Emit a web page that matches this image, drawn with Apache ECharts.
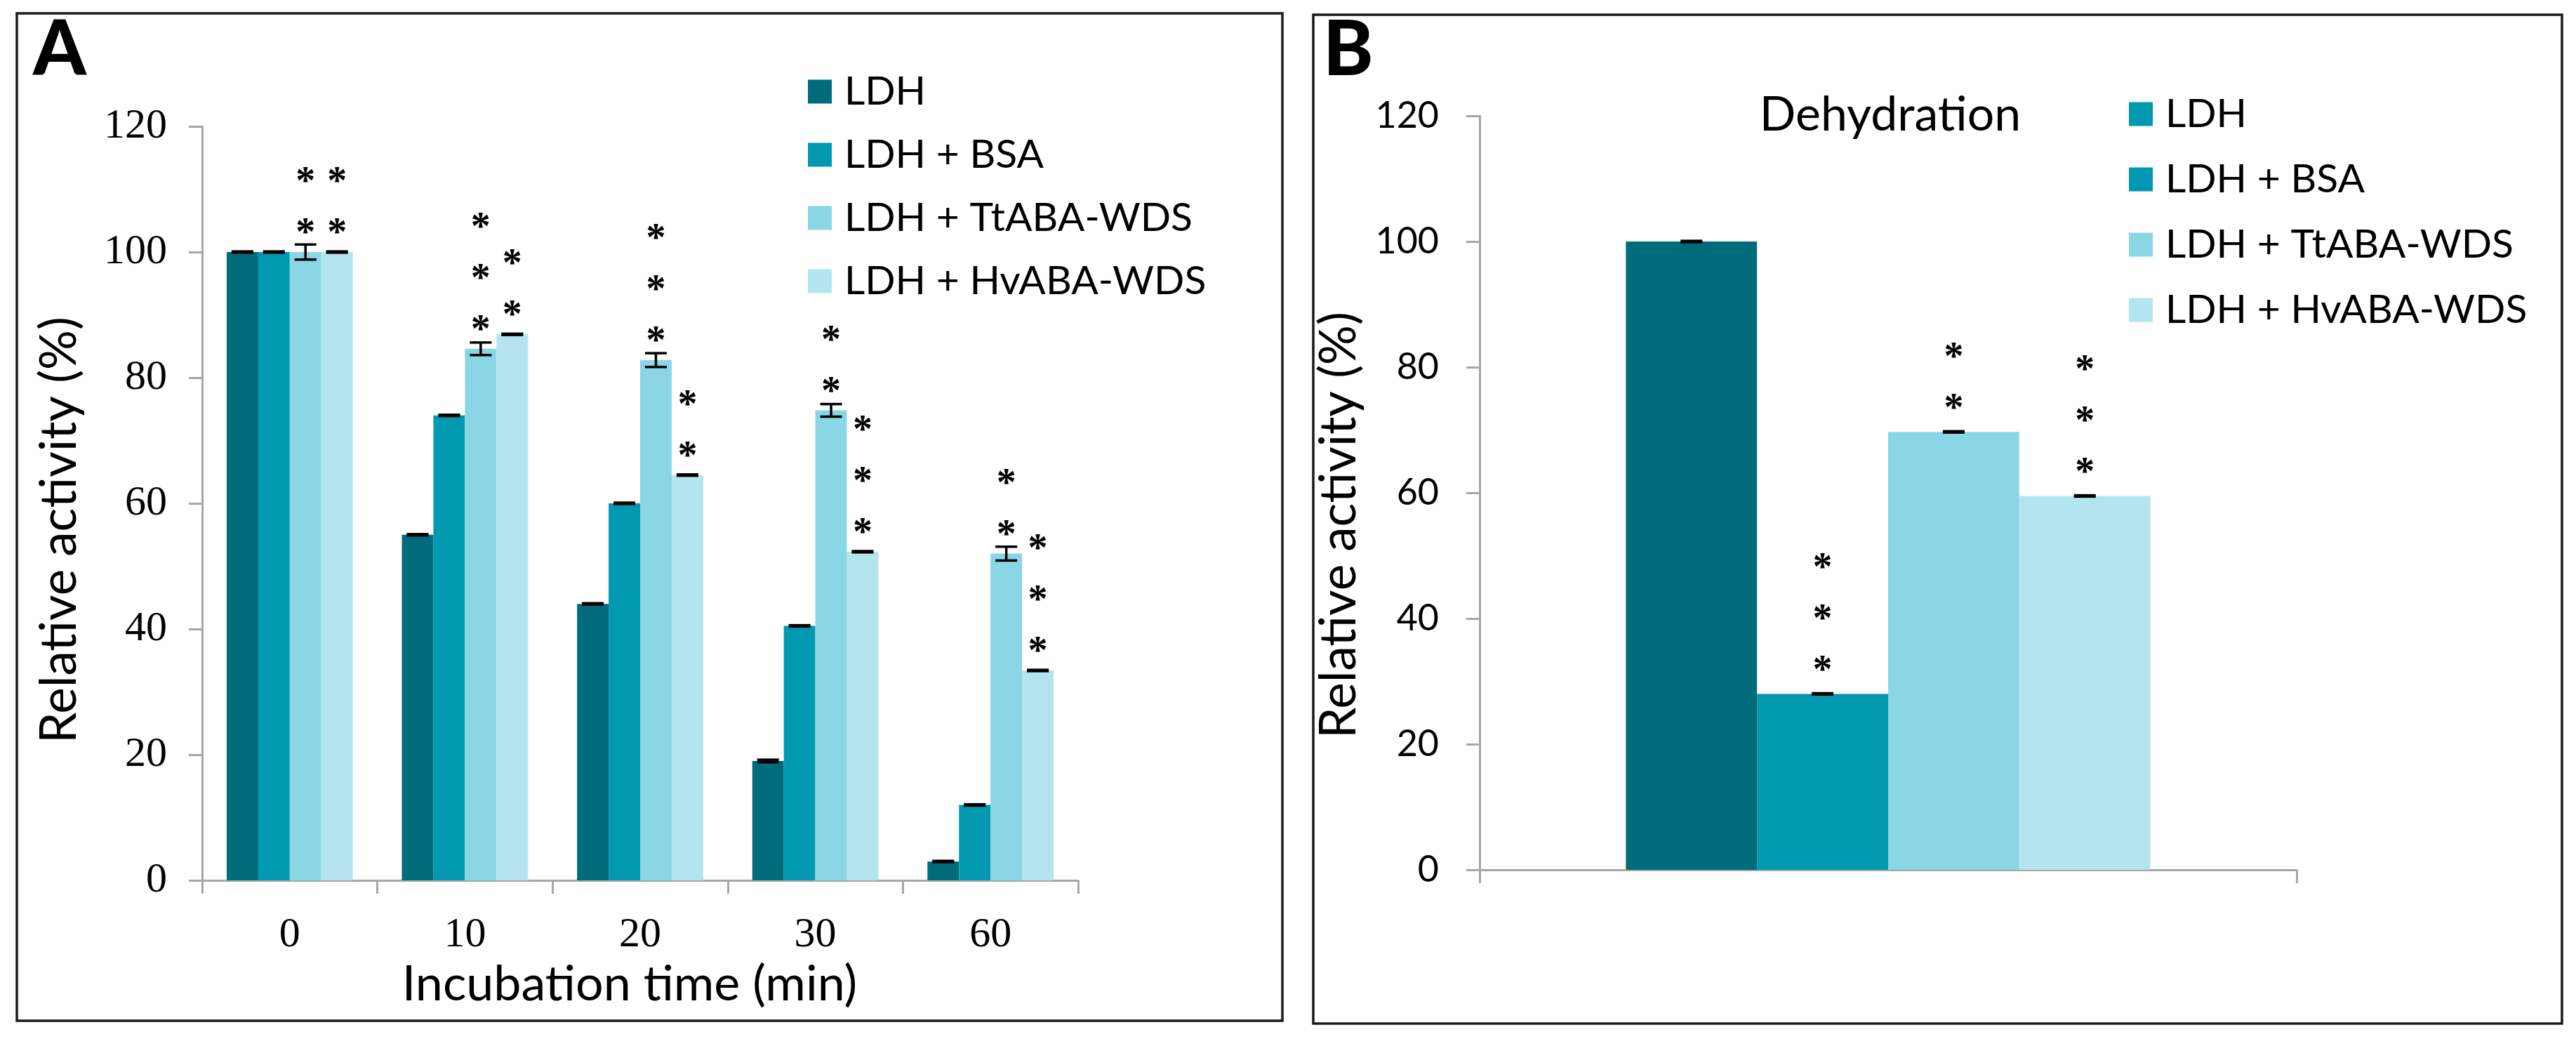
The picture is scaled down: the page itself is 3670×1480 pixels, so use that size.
<!DOCTYPE html>
<html>
<head>
<meta charset="utf-8">
<script src="https://cdn.jsdelivr.net/npm/echarts@6/dist/echarts.min.js"></script>
<style>
html,body{margin:0;padding:0;background:#fff;}
#chart{width:3670px;height:1480px;}
</style>
</head>
<body>
<div id="chart"></div>
<script>
// ---------- DATA ----------
const timeCategories = ['0', '10', '20', '30', '60'];
const seriesNames = ['LDH', 'LDH + BSA', 'LDH + TtABA-WDS', 'LDH + HvABA-WDS'];
const yTicks = [0, 20, 40, 60, 80, 100, 120];

// Panel A: relative activity (%) after incubation
const ldhA = [100, 55, 44, 19, 3];
const bsaA = [100, 74, 60, 40.5, 12];
const ttA  = [100, 84.6, 82.8, 74.8, 52];
const hvA  = [100, 86.9, 64.5, 52.3, 33.4];
const ldhErrA = [0.1, 0.1, 0.1, 0.2, 0.1];
const bsaErrA = [0.1, 0.1, 0.1, 0.1, 0.1];
const ttErrA  = [1.2, 1.0, 1.1, 1.0, 1.1];
const hvErrA  = [0.1, 0.1, 0.1, 0.1, 0.1];
const ldhStarsA = [0, 0, 0, 0, 0];
const bsaStarsA = [0, 0, 0, 0, 0];
const ttStarsA  = [2, 3, 3, 2, 2];
const hvStarsA  = [2, 2, 2, 3, 3];

// Panel B: dehydration
const dehydCategories = ['Dehydration'];
const valuesB = [100, 28, 69.7, 59.5];
const errB    = [0.1, 0.1, 0.1, 0.1];
const starsB  = [0, 3, 2, 3];

// ---------- STYLE ----------
const colors = ['#006b7a', '#0099b0', '#8ad6e5', '#b4e5ee'];
const gapA = 0.28, gapB = 0.358;
const axisGray = '#a6a6a6';

const valuesA = [ldhA, bsaA, ttA, hvA];
const errsA = [ldhErrA, bsaErrA, ttErrA, hvErrA];
const starsA = [ldhStarsA, bsaStarsA, ttStarsA, hvStarsA];

function starText(n) {
  if (!n) return '';
  return Array(n).fill('*').join('\n');
}

function starLabel(dy) {
  return {
    show: true,
    position: 'top',
    distance: 0,
    offset: [0, dy],
    fontFamily: 'Liberation Serif',
    fontWeight: 'bold',
    fontSize: 56,
    lineHeight: 73,
    color: '#000'
  };
}

function errorRenderer(nSeries, gap) {
  return function (params, api) {
    const cat = api.value(0), val = api.value(1), err = api.value(2), si = api.value(3);
    const c = api.coord([cat, val]);
    const band = api.size([1, 0])[0];
    const bw = band * (1 - gap) / nSeries;
    const x = c[0] - band * (1 - gap) / 2 + bw * (si + 0.5);
    const yt = api.coord([cat, val + err])[1];
    const yb = api.coord([cat, val - err])[1];
    const hw = 15.5;
    const st = { stroke: '#000', lineWidth: 3.5 };
    return {
      type: 'group',
      children: [
        { type: 'line', shape: { x1: x, y1: yt, x2: x, y2: yb }, style: st },
        { type: 'line', shape: { x1: x - hw, y1: yt, x2: x + hw, y2: yt }, style: st },
        { type: 'line', shape: { x1: x - hw, y1: yb, x2: x + hw, y2: yb }, style: st }
      ]
    };
  };
}

const errDataA = [];
errsA.forEach((arr, si) => arr.forEach((e, ci) => errDataA.push([ci, valuesA[si][ci], e, si])));
const errDataB = valuesB.map((v, si) => [0, v, errB[si], si]);

const seriesA = seriesNames.map((name, si) => ({
  name: name,
  type: 'bar',
  xAxisIndex: 0, yAxisIndex: 0,
  data: valuesA[si],
  barGap: '0%',
  barCategoryGap: (gapA * 100) + '%',
  itemStyle: { color: colors[si] },
  label: Object.assign(starLabel(12), { formatter: p => starText(starsA[si][p.dataIndex]) }),
  emphasis: { disabled: true },
  animation: false
}));

const seriesB = seriesNames.map((name, si) => ({
  name: name,
  type: 'bar',
  xAxisIndex: 1, yAxisIndex: 1,
  data: [valuesB[si]],
  barGap: '0%',
  barCategoryGap: (gapB * 100) + '%',
  itemStyle: { color: colors[si] },
  label: Object.assign(starLabel(6), { formatter: () => starText(starsB[si]) }),
  emphasis: { disabled: true },
  animation: false
}));

const legendText = {
  fontFamily: 'Lato', fontSize: 57, lineHeight: 57, color: '#000',
  padding: [0, 0, 0, 13]
};

const chart = echarts.init(document.getElementById('chart'), null, { renderer: 'canvas' });
chart.setOption({
  backgroundColor: '#fff',
  animation: false,
  title: [
    { text: 'A', left: 47, top: 18, padding: 0, textStyle: { fontFamily: 'Lato', fontWeight: 900, fontSize: 108, color: '#000' } },
    { text: 'B', left: 1885, top: 18, padding: 0, textStyle: { fontFamily: 'Lato', fontWeight: 900, fontSize: 108, color: '#000' } },
    { text: 'Dehydration', left: 2693, textAlign: 'center', top: 130, padding: 0, textStyle: { fontFamily: 'Lato', fontWeight: 'normal', fontSize: 68, color: '#000' } }
  ],
  legend: [
    {
      orient: 'vertical', left: 1146, top: 97, itemWidth: 34, itemHeight: 34, itemGap: 33,
      icon: 'rect', selectedMode: false, textStyle: legendText, data: seriesNames
    },
    {
      orient: 'vertical', left: 3028, top: 129, itemWidth: 34, itemHeight: 34, itemGap: 36,
      icon: 'rect', selectedMode: false, textStyle: legendText,
      data: [{ name: 'LDH', itemStyle: { color: colors[1] } }, seriesNames[1], seriesNames[2], seriesNames[3]]
    }
  ],
  grid: [
    { left: 288, right: 3670 - 1536, top: 180, bottom: 1480 - 1254, containLabel: false, outerBoundsMode: 'none' },
    { left: 2108, right: 3670 - 3272, top: 165, bottom: 1480 - 1239, containLabel: false, outerBoundsMode: 'none' }
  ],
  xAxis: [
    {
      type: 'category', gridIndex: 0, data: timeCategories,
      name: 'Incubation time (min)', nameLocation: 'middle', nameGap: 113,
      nameTextStyle: { fontFamily: 'Lato', fontSize: 70, color: '#000', padding: [0, 30, 0, 0] },
      axisLine: { lineStyle: { color: axisGray, width: 3 } },
      axisTick: { show: true, length: 19, lineStyle: { color: axisGray, width: 3 } },
      axisLabel: { fontFamily: 'Liberation Serif', fontSize: 60, color: '#000', margin: 48 }
    },
    {
      type: 'category', gridIndex: 1, data: dehydCategories,
      axisLine: { lineStyle: { color: axisGray, width: 3 } },
      axisTick: { show: true, length: 19, lineStyle: { color: axisGray, width: 3 } },
      axisLabel: { show: false }
    }
  ],
  yAxis: [
    {
      type: 'value', gridIndex: 0, min: yTicks[0], max: yTicks[yTicks.length - 1], interval: 20,
      name: 'Relative activity (%)', nameLocation: 'middle', nameGap: 167,
      nameTextStyle: { fontFamily: 'Lato', fontSize: 71, color: '#000', padding: [0, 76, 0, 0] },
      axisLine: { show: true, lineStyle: { color: axisGray, width: 3 } },
      axisTick: { show: true, length: 19, lineStyle: { color: axisGray, width: 3 } },
      splitLine: { show: false },
      axisLabel: { fontFamily: 'Liberation Serif', fontSize: 60, color: '#000', margin: 50 }
    },
    {
      type: 'value', gridIndex: 1, min: yTicks[0], max: yTicks[yTicks.length - 1], interval: 20,
      name: 'Relative activity (%)', nameLocation: 'middle', nameGap: 164,
      nameTextStyle: { fontFamily: 'Lato', fontSize: 71, color: '#000', padding: [0, 92, 0, 0] },
      axisLine: { show: true, lineStyle: { color: axisGray, width: 3 } },
      axisTick: { show: true, length: 19, lineStyle: { color: axisGray, width: 3 } },
      splitLine: { show: false },
      axisLabel: { fontFamily: 'Lato', fontSize: 52, color: '#000', margin: 58 }
    }
  ],
  graphic: [
    { type: 'rect', shape: { x: 24, y: 19, width: 1803, height: 1435 }, style: { fill: 'none', stroke: '#1a1a1a', lineWidth: 3.5 }, silent: true },
    { type: 'rect', shape: { x: 1871, y: 21, width: 1779, height: 1437 }, style: { fill: 'none', stroke: '#1a1a1a', lineWidth: 3.5 }, silent: true }
  ],
  series: seriesA.concat(seriesB).concat([
    { type: 'custom', name: 'errA', xAxisIndex: 0, yAxisIndex: 0, renderItem: errorRenderer(4, gapA), data: errDataA, z: 5, silent: true },
    { type: 'custom', name: 'errB', xAxisIndex: 1, yAxisIndex: 1, renderItem: errorRenderer(4, gapB), data: errDataB, z: 5, silent: true }
  ])
});
</script>
</body>
</html>
